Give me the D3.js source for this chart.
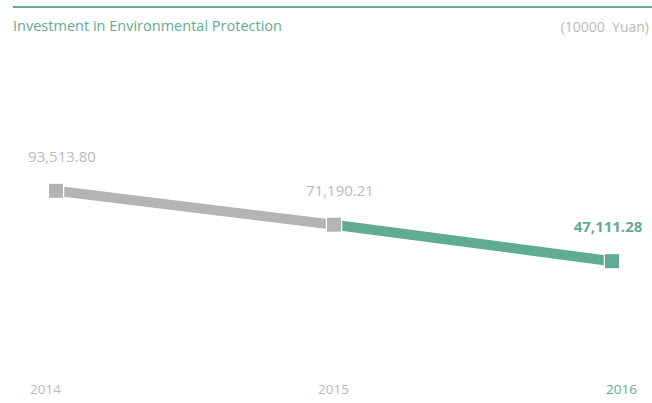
<!DOCTYPE html>
<html>
<head>
<meta charset="utf-8">
<script src="https://cdn.jsdelivr.net/npm/d3@7"></script>
<style>
body { margin: 0; background: #fff; font-family: "Open Sans", sans-serif; }
svg { display: block; }
</style>
</head>
<body>
<div id="chart"></div>
<script>
// data
const years = ["2014", "2015", "2016"];
const values = [93513.80, 71190.21, 47111.28];
const labels = ["93,513.80", "71,190.21", "47,111.28"];
const title = "Investment in Environmental Protection";
const unit = "(10000  Yuan)";

const teal = "#5fab93";
const grey = "#b4b5b3";
const greyText = "#b9b9b9";

const width = 652, height = 403;

const svg = d3.select("#chart")
  .append("svg")
  .attr("width", width)
  .attr("height", height);

// top rule
svg.append("line")
  .attr("x1", 13).attr("x2", width)
  .attr("y1", 7).attr("y2", 7)
  .attr("stroke", teal)
  .attr("stroke-width", 2);

svg.append("text")
  .attr("x", 13).attr("y", 31)
  .attr("fill", teal)
  .attr("font-size", 15)
  .attr("textLength", 269)
  .attr("lengthAdjust", "spacingAndGlyphs")
  .text(title);

svg.append("text")
  .attr("x", 649).attr("y", 32)
  .attr("text-anchor", "end")
  .attr("fill", greyText)
  .attr("font-size", 14)
  .style("white-space", "pre")
  .text(unit);

const x = d3.scalePoint().domain(years).range([56, 612]);
const y = d3.scaleLinear().domain([40000, 100000]).range([272, 181]);

const pts = years.map((yr, i) => ({ year: yr, value: values[i], label: labels[i], last: i === years.length - 1 }));

// segments: first grey, last teal
const segs = d3.pairs(pts).map((p, i, arr) => ({ a: p[0], b: p[1], color: i === arr.length - 1 ? teal : grey }));

svg.selectAll(".seg")
  .data(segs)
  .enter().append("line")
  .attr("class", "seg")
  .attr("x1", d => x(d.a.year)).attr("y1", d => y(d.a.value))
  .attr("x2", d => x(d.b.year)).attr("y2", d => y(d.b.value))
  .attr("stroke", d => d.color)
  .attr("stroke-width", 10);

const s = 14;
svg.selectAll(".mark")
  .data(pts)
  .enter().append("rect")
  .attr("class", "mark")
  .attr("x", d => x(d.year) - s / 2)
  .attr("y", d => y(d.value) - s / 2)
  .attr("width", s).attr("height", s)
  .attr("fill", d => d.last ? teal : grey)
  .attr("stroke", "#fff")
  .attr("stroke-width", 2.5)
  .attr("paint-order", "stroke");

svg.selectAll(".val")
  .data(pts)
  .enter().append("text")
  .attr("class", "val")
  .attr("x", d => x(d.year) + (d.last ? -4 : 6))
  .attr("y", d => y(d.value) - 29)
  .attr("text-anchor", "middle")
  .attr("fill", d => d.last ? teal : greyText)
  .attr("font-size", 15)
  .attr("font-weight", d => d.last ? "bold" : "normal")
  .text(d => d.label);

// year axis
const xl = d3.scalePoint().domain(years).range([45, 621]);
const axis = svg.append("g")
  .attr("transform", "translate(0,384)")
  .call(d3.axisBottom(xl).tickSize(0).tickPadding(0));
axis.select(".domain").remove();
axis.selectAll("text")
  .attr("font-family", "Open Sans, sans-serif")
  .attr("font-size", 13.5)
  .attr("fill", (d, i) => i === years.length - 1 ? teal : greyText);
</script>
</body>
</html>
